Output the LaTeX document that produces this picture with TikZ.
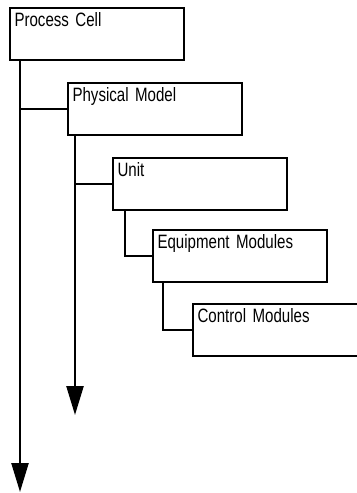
\documentclass[tikz,border=0pt]{standalone}
\usepackage{fontspec}
\setmainfont{Liberation Sans}[FakeStretch=0.78]
\usetikzlibrary{arrows.meta}
\tikzset{
  lvlbox/.style={draw, line width=1.8pt, anchor=north west, align=left,
    minimum width=130.5pt, text width=124pt, inner xsep=3.25pt, inner ysep=2pt,
    text height=12pt, text depth=23pt, font=\fontsize{14.5}{17}\selectfont},
  conn/.style={line width=1.8pt},
  down/.style={conn, -{Triangle[width=12.75pt, length=21.75pt]}}
}

\begin{document}
\begin{tikzpicture}[x=0.75pt, y=-0.75pt]
\useasboundingbox (0,0) rectangle (357,493);
% Levels of the model
\node[lvlbox] (cell) at (9,7) {Process Cell};
\node[lvlbox] (model) at (67,82) {Physical Model};
\node[lvlbox] (unit) at (112,157) {Unit};
\node[lvlbox] (equip) at (152,229) {Equipment Modules};
\node[lvlbox] (ctrl) at (192,303) {Control Modules};
% Ends of the two long arrows
\coordinate (cellend) at (20,492);
\coordinate (modelend) at (75,415);
% Process cell trunk
\draw[down] (cell.south west -| cellend) -- (cellend);
\draw[conn] (model.west -| cellend) -- (model.west);
% Physical model trunk
\draw[down] (model.south west -| modelend) -- (modelend);
\draw[conn] (unit.west -| modelend) -- (unit.west);
% Unit to equipment, equipment to control
\draw[conn] ([xshift=9.75pt]unit.south west) |- (equip.west);
\draw[conn] ([xshift=8.25pt]equip.south west) |- (ctrl.west);
\end{tikzpicture}
\end{document}
